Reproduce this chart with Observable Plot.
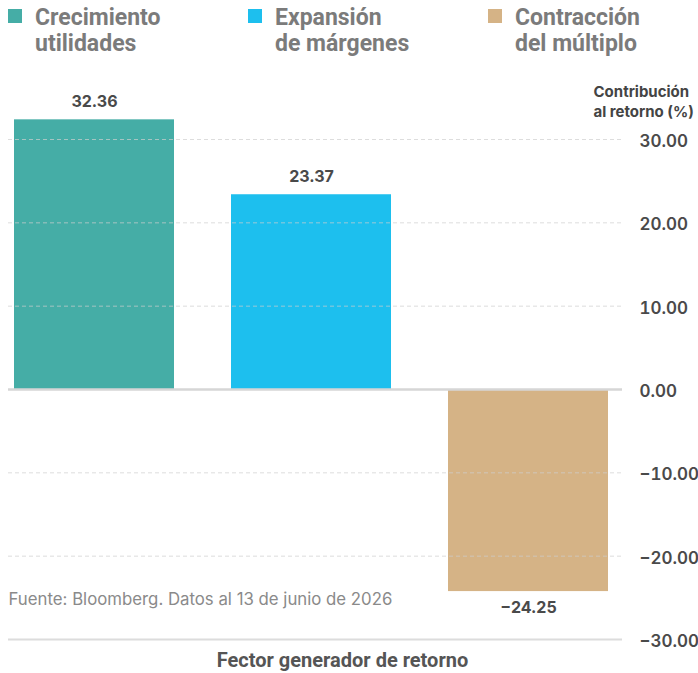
<!DOCTYPE html>
<html>
<head>
<meta charset="utf-8">
<script src="https://cdn.jsdelivr.net/npm/d3@7"></script>
<script src="https://cdn.jsdelivr.net/npm/@observablehq/plot@0.6"></script>
<style>
  html, body { margin: 0; padding: 0; background: #fff; }
  #wrap { position: relative; width: 698px; height: 673px; }
  #legend { position: relative; height: 60px; width: 698px; }
  .item { position: absolute; top: 0; }
  .sw { position: absolute; left: 0; top: 9px; width: 14px; height: 14px; }
  .lbl { position: absolute; left: 27px; top: 5px; font-family: Roboto, sans-serif; font-weight: 700; font-size: 23px; line-height: 26px; color: #7b7b7b; white-space: nowrap; }
</style>
</head>
<body>
<div id="wrap">
  <div id="legend"></div>
  <div id="chart"></div>
</div>
<script>
const categories = ["Crecimiento utilidades", "Expansión de márgenes", "Contracción del múltiplo"];
const legendLines = [["Crecimiento", "utilidades"], ["Expansión", "de márgenes"], ["Contracción", "del múltiplo"]];
const values = [32.36, 23.37, -24.25];
const colors = ["#45ada6", "#1dbfee", "#d5b386"];
const yTicks = [-30, -20, -10, 0, 10, 20, 30];
const gridTicks = [-20, -10, 10, 20, 30];
const yTitle = "Contribución\nal retorno (%)";
const xTitle = "Fector generador de retorno";
const source = "Fuente: Bloomberg. Datos al 13 de junio de 2026";

const data = categories.map((c, i) => ({cat: c, value: values[i]}));

// legend
const legend = document.getElementById("legend");
categories.forEach((c, i) => {
  const it = document.createElement("div");
  it.className = "item";
  it.style.left = (8 + i * 240) + "px";
  const sw = document.createElement("div");
  sw.className = "sw";
  sw.style.background = colors[i];
  const lb = document.createElement("div");
  lb.className = "lbl";
  lb.innerHTML = legendLines[i].join("<br>");
  it.appendChild(sw); it.appendChild(lb);
  legend.appendChild(it);
});

const fmt = d => (d < 0 ? "\u2212" : "") + Math.abs(d).toFixed(2);

const chart = Plot.plot({
  width: 698,
  height: 613,
  marginLeft: 8,
  marginRight: 76,
  marginTop: 79,
  marginBottom: 34,
  style: {fontFamily: "Inter, sans-serif", background: "#fff", overflow: "visible"},
  x: {type: "band", domain: categories, paddingInner: 0.263, paddingOuter: 0.046, align: 0.3, axis: null},
  y: {domain: [-30, 30], axis: null},
  color: {domain: categories, range: colors},
  marks: [
    Plot.barY(data, {x: "cat", y: "value", fill: "cat"}),
    Plot.ruleY(gridTicks, {stroke: "#cfcfcf", strokeDasharray: "4,3", strokeOpacity: 0.7}),
    Plot.ruleY([0], {stroke: "#d6d6d6", strokeWidth: 2.5}),
    Plot.ruleY([-30], {stroke: "#dcdcdc", strokeWidth: 2}),
    Plot.axisY({anchor: "right", ticks: yTicks, tickSize: 0, tickPadding: 17, tickFormat: fmt, label: null,
      fontSize: 17, fontWeight: 600, fill: "#4a4a4a", textAnchor: "start", dy: 2}),
    Plot.text(data.filter(d => d.value >= 0), {x: "cat", y: "value", text: d => d.value.toFixed(2), dy: -18,
      fontSize: 16, fontWeight: 700, fill: "#4a4a4a"}),
    Plot.text(data.filter(d => d.value < 0), {x: "cat", y: "value", text: d => fmt(d.value), dy: 16,
      fontSize: 16, fontWeight: 700, fill: "#4a4a4a"}),
    Plot.text([yTitle], {frameAnchor: "top-right", text: d => d, textAnchor: "start", lineAnchor: "bottom",
      dx: -29, dy: -23, fontSize: 15, fontWeight: 700, fill: "#444", lineHeight: 1.27}),
    Plot.text([source], {frameAnchor: "bottom-left", text: d => d, textAnchor: "start", dy: -35,
      fontSize: 16.8, fill: "#8a8a8a"}),
    Plot.text([xTitle], {frameAnchor: "bottom", text: d => d, dx: 27, dy: 27,
      fontSize: 20, fontWeight: 700, fill: "#555", fontFamily: "Roboto, sans-serif"})
  ]
});
document.getElementById("chart").appendChild(chart);
</script>
</body>
</html>
